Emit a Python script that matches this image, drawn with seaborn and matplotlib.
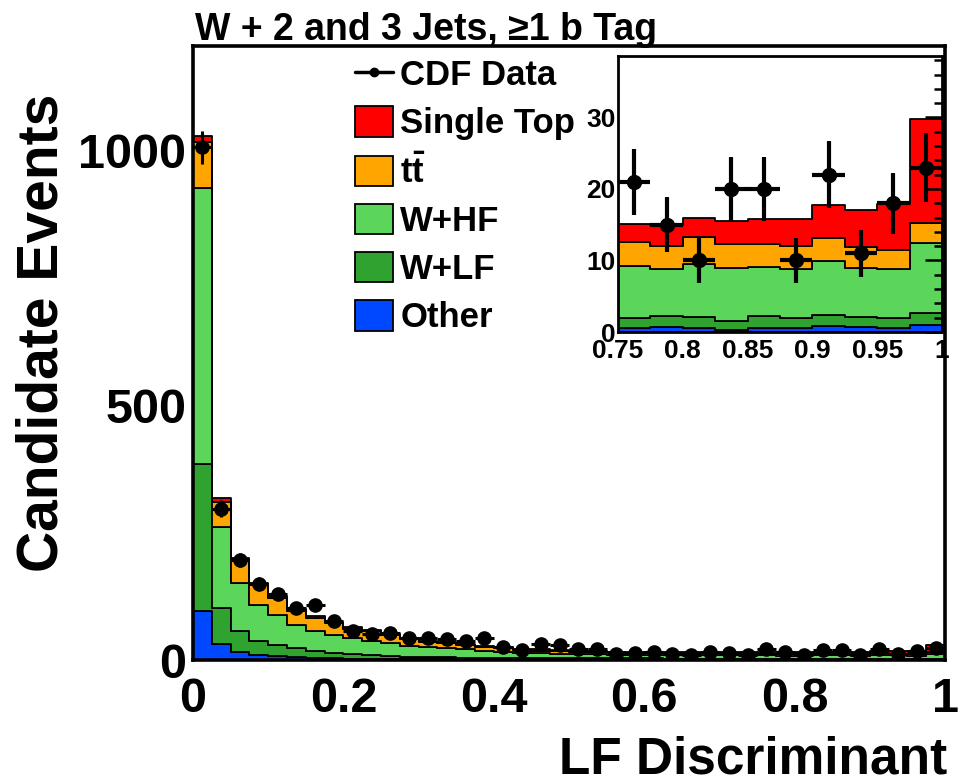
import numpy as np
import pandas as pd
import seaborn as sns
import matplotlib
matplotlib.use('Agg')
import matplotlib.pyplot as plt
from matplotlib.patches import Patch
from matplotlib.lines import Line2D
from matplotlib.ticker import MultipleLocator, FuncFormatter

# 40 bins of width 0.025 on the LF discriminant
bin_w = 0.025
edges = np.linspace(0, 1, 41)
centers = 0.5 * (edges[:-1] + edges[1:])

other = [97, 31, 16, 10, 7, 5, 4, 3, 2, 2, 1.5, 1.5, 1, 1, 1, 1, 1, 1, 1, 1,
         1, 1, 1, 1, 1, 1, 1, 0.8, 0.8, 0.8, 0.6, 0.7, 0.5, 0.3, 0.6, 0.5, 0.8, 0.7, 0.5, 1.0]
wlf = [287, 71, 40, 27, 23, 18, 14, 11, 9, 7, 5.5, 4.5, 4, 4, 3, 3, 2, 2, 2, 2,
       2, 2, 2, 2, 2, 1.8, 1.8, 1.8, 1.7, 1.6, 1.4, 1.5, 1.6, 1.3, 1.6, 1.5, 1.6, 1.4, 1.4, 1.6]
whf = [542, 159, 96, 71, 58, 45, 39, 35, 33, 29, 26, 22, 20, 18, 17, 14, 13, 11, 10, 9,
       8, 8, 7.5, 7, 7, 7.2, 6.7, 6.9, 7.0, 6.9, 7.2, 6.6, 7.4, 7.4, 6.9, 6.8, 7.5, 6.9, 6.9, 9.8]
ttbar = [90, 49, 46, 41, 34, 29, 25, 23, 17, 18, 16, 13, 11, 10, 9, 8, 7, 6, 5, 5,
         5, 4.5, 4.5, 4.5, 4, 4, 4, 3.5, 3.5, 3.5, 3.4, 3.2, 3.8, 3.3, 3.2, 3.2, 3.2, 2.9, 2.6, 2.9]
stop = [13, 8, 2, 3, 4, 3, 4, 3, 4, 2, 2, 2, 2, 2, 2, 2, 2, 1, 3, 2,
        2, 1.5, 1.5, 1.5, 2, 1.5, 2, 2, 2, 2.2, 2.5, 2.9, 2.7, 3.2, 3.5, 3.8, 4.6, 5.2, 6.5, 14.5]
data = [1006, 297, 196, 150, 129, 103, 107, 77, 56, 52, 53, 43, 43, 42, 38, 43, 25, 20, 31, 30,
        21, 21, 12, 14, 16, 12, 10, 16, 13, 10, 21, 15, 10, 20, 20, 10, 22, 11, 18, 23]

procs = ['Other', 'W+LF', 'W+HF', 'tt', 'Single Top']
colors = {'Other': '#0048ff', 'W+LF': '#2fa22f', 'W+HF': '#5bd65b',
          'tt': '#ffa500', 'Single Top': '#ff0000'}
labels = {'Single Top': 'Single Top', 'tt': r'$\mathbf{t\bar{t}}$', 'W+HF': 'W+HF',
          'W+LF': 'W+LF', 'Other': 'Other'}

rows = []
for name, vals in zip(procs, [other, wlf, whf, ttbar, stop]):
    for c, v in zip(centers, vals):
        rows.append({'x': c, 'n': v, 'proc': name})
df = pd.DataFrame(rows)
data = np.array(data, dtype=float)

sns.set_theme(style='white')
plt.rcParams['font.family'] = ['Liberation Sans', 'DejaVu Sans']
plt.rcParams['font.weight'] = 'bold'
plt.rcParams['mathtext.fontset'] = 'custom'
plt.rcParams['mathtext.bf'] = 'Liberation Sans:bold'
plt.rcParams['mathtext.rm'] = 'Liberation Sans:bold'
for k in ['text.color', 'axes.labelcolor', 'xtick.color', 'ytick.color', 'axes.edgecolor']:
    plt.rcParams[k] = 'black'

fig = plt.figure(figsize=(9.59, 7.79), dpi=100)


def draw(ax, ms, elw):
    sns.histplot(data=df, x='x', weights='n', hue='proc', hue_order=procs[::-1],
                 multiple='stack', binwidth=bin_w, binrange=(0, 1), element='step',
                 palette=colors, edgecolor='black', linewidth=1.3, alpha=1,
                 legend=False, ax=ax)
    ax.errorbar(centers, data, yerr=np.sqrt(data), xerr=bin_w / 2, fmt='o', color='black',
                ms=ms, elinewidth=elw, capsize=0, zorder=5)
    ax.set_xlabel('')
    ax.set_ylabel('')
    ax.set_axisbelow(False)


fmt = FuncFormatter(lambda v, p: '%g' % v)

ax = fig.add_axes([193 / 959, 1 - 660 / 779, 752 / 959, 614 / 779])
draw(ax, 9.5, 2.2)
ax.set_xlim(0, 1)
ax.set_ylim(0, 1205)
ax.xaxis.set_major_locator(MultipleLocator(0.2))
ax.xaxis.set_minor_locator(MultipleLocator(0.05))
ax.yaxis.set_major_locator(MultipleLocator(500))
ax.yaxis.set_minor_locator(MultipleLocator(100))
ax.xaxis.set_major_formatter(fmt)
ax.tick_params(which='both', direction='in', top=False, right=False, width=2.2)
ax.tick_params(which='major', length=16, labelsize=35)
ax.tick_params(which='minor', length=8)
ax.tick_params(axis='x', pad=12)
ax.tick_params(axis='y', pad=5)
for s in ax.spines.values():
    s.set_linewidth(2.6)
    s.set_color('black')

fig.text(195 / 959, 1 - 40 / 779, u'W + 2 and 3 Jets, \u22651 b Tag', fontsize=27,
         fontweight='bold', ha='left', va='baseline')
fig.text(43 / 959, 1 - 333 / 779, 'Candidate Events', fontsize=41, fontweight='bold',
         rotation=90, ha='center', va='center')
fig.text(947 / 959, 6 / 779, 'LF Discriminant', fontsize=37, fontweight='bold',
         ha='right', va='baseline')

handles = [Line2D([], [], color='black', marker='o', ms=6, lw=2.5)]
names = ['CDF Data']
for p in ['Single Top', 'tt', 'W+HF', 'W+LF', 'Other']:
    handles.append(Patch(facecolor=colors[p], edgecolor='black', linewidth=1.3))
    names.append(labels[p])
ax.legend(handles, names, loc='upper left', bbox_to_anchor=(355 / 959, 1 - 58 / 779),
          bbox_transform=fig.transFigure, frameon=False, borderpad=0,
          borderaxespad=0, handlelength=1.1, handleheight=0.98, handletextpad=0.2,
          labelspacing=0.4, prop={'weight': 'bold', 'size': 25})

# inset zoom on the high end
ins = fig.add_axes([618 / 959, 1 - 332 / 779, 324 / 959, 276 / 779])
draw(ins, 10, 3)
ins.set_facecolor('white')
ins.set_xlim(0.75, 1)
ins.set_ylim(0, 38.6)
ins.xaxis.set_major_locator(MultipleLocator(0.05))
ins.xaxis.set_minor_locator(MultipleLocator(0.01))
ins.yaxis.set_major_locator(MultipleLocator(10))
ins.yaxis.set_minor_locator(MultipleLocator(2))
ins.xaxis.set_major_formatter(fmt)
ins.tick_params(which='both', direction='in', top=False, right=True, width=1.8)
ins.tick_params(which='major', length=12, labelsize=19)
ins.tick_params(which='minor', length=6)
ins.tick_params(axis='x', pad=5)
ins.tick_params(axis='y', pad=2)
for s in ins.spines.values():
    s.set_linewidth(2)
    s.set_color('black')

fig.savefig('out.png', dpi=100)
